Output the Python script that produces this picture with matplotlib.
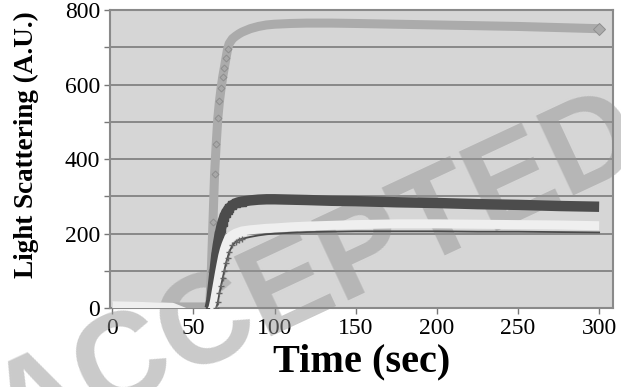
import numpy as np
import matplotlib
matplotlib.use("Agg")
import matplotlib.pyplot as plt

# ---- data ----
time_s = [0, 10, 20, 30, 37, 45, 55, 60, 61, 62, 63, 64, 65, 66, 67, 68, 69, 70,
          71, 72, 74, 76, 78, 80, 85, 90, 95, 100, 110, 120, 135, 150, 175, 200,
          225, 250, 275, 300]
nan = np.nan
series_light = [3, 3, 3, 3, 3, 3, 3, 3, 100, 230, 360, 440, 510, 555, 590, 620, 645, 670,
                695, 710, 723, 730, 736, 741, 750, 756, 760, 762, 764, 765, 765, 764, 762, 760,
                758, 756, 753, 750]
series_dark = [nan, nan, nan, nan, nan, nan, nan, 0, 20, 60, 100, 140, 170, 195, 215, 232, 245, 255,
               262, 268, 276, 281, 284, 286, 289, 291, 292, 292, 291, 290, 288, 287, 284, 282,
               279, 277, 274, 272]
series_white = [6, 5, 4, 3, 2, -12, -12, -12, -8, 0, 20, 45, 70, 95, 118, 140, 157, 170,
                181, 190, 196, 201, 204, 207, 210, 212, 214, 215, 218, 220, 222, 224, 226, 226,
                225, 224, 223, 221]
series_line = [nan, nan, nan, nan, nan, nan, nan, nan, nan, nan, nan, 0, 15, 40, 60, 80, 100, 120,
               135, 150, 168, 178, 183, 186, 191, 195, 198, 200, 202, 204, 205, 206, 206, 206,
               205, 205, 204, 203]

x_ticks = [0, 50, 100, 150, 200, 250, 300]
y_ticks = [0, 200, 400, 600, 800]
x_label = "Time (sec)"
y_label = "Light Scattering (A.U.)"
watermark = "ACCEPTED"

# ---- figure ----
fig = plt.figure(figsize=(6.21, 3.87), dpi=100)
ax = fig.add_axes([0.177, 0.204, 0.810, 0.770])
ax.set_facecolor("#d6d6d6")

t = np.array(time_s, dtype=float)
rise = [i for i, v in enumerate(time_s) if 60 <= v <= 80]
steep = [i for i, v in enumerate(time_s) if 60 <= v <= 71]

ax.plot(t, series_light, color="#ababab", lw=6.5, marker="D", ms=3.5,
        mfc="#a8a8a8", mec="#8e8e8e", mew=0.7, markevery=steep,
        solid_capstyle="butt", zorder=3)
ax.plot(t[-1:], series_light[-1:], linestyle="none", marker="D", ms=6,
        mfc="#ababab", mec="#8e8e8e", mew=0.7, zorder=3)
ax.plot(t, series_dark, color="#4c4c4c", lw=7.5, marker="s", ms=6,
        mfc="#4c4c4c", mec="#4c4c4c", markevery=rise,
        solid_capstyle="butt", zorder=4)
ax.plot(t, series_white, color="#efefef", lw=6.5, marker="^", ms=6,
        mfc="#efefef", mec="#efefef", markevery=rise,
        solid_capstyle="butt", zorder=5)
ax.plot(t, series_line, color="#4a4a4a", lw=1.3, marker="+", ms=4,
        mec="#666666", markevery=rise, zorder=6)

ax.set_xlim(-1.5, 308.5)
ax.set_ylim(0, 800)
ax.set_xticks(x_ticks)
ax.set_yticks(y_ticks)
ax.set_yticks(np.arange(0, 801, 100), minor=True)
ax.grid(True, axis="y", which="both", color="#747474", lw=1.1, zorder=1)
ax.set_axisbelow(True)

for s in ax.spines.values():
    s.set_color("#8a8a8a")
    s.set_linewidth(1.5)

serif = ["Liberation Serif", "DejaVu Serif"]
ax.tick_params(axis="both", which="both", direction="out", length=4,
               color="#777777", width=1)
for lab in ax.get_xticklabels() + ax.get_yticklabels():
    lab.set_family(serif)
    lab.set_fontsize(17)
ax.tick_params(axis="x", pad=3)
ax.tick_params(axis="y", pad=3)

ax.set_xlabel(x_label, family=serif, fontsize=29, fontweight="bold", labelpad=3)
ax.set_ylabel(y_label, family=serif, fontsize=19.5, fontweight="bold")
ax.yaxis.set_label_coords(-0.14, 0.55)

ax.text(0.512, 0.284, watermark, transform=fig.transFigure, rotation=25,
        ha="center", va="center", family=["Liberation Sans", "DejaVu Sans"],
        fontweight="bold", fontsize=92, color="#969696", alpha=0.5,
        clip_on=False, zorder=2)

fig.savefig("out.png", dpi=100)
